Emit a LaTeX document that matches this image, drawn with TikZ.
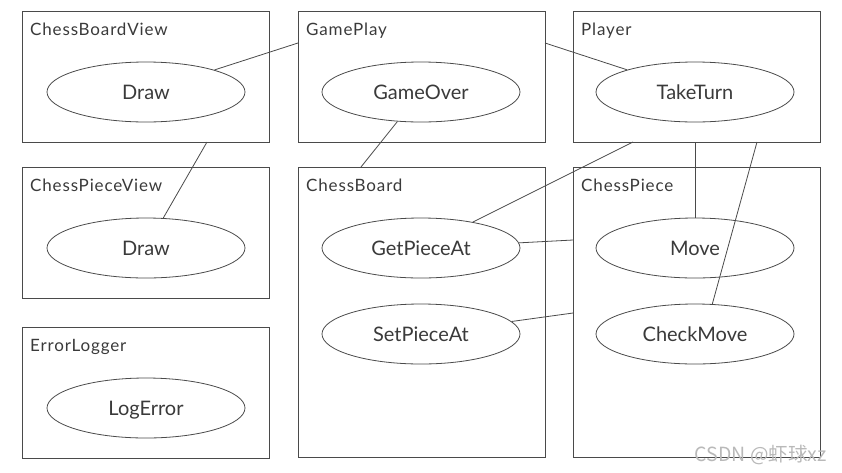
\documentclass[tikz,border=0pt]{standalone}
\usepackage{fontspec}
\setmainfont{Lato}
\newfontfamily\cjk{Noto Sans CJK SC}
\newfontfamily\titlefont[LetterSpace=5]{Lato}
\usetikzlibrary{shapes.geometric}
\definecolor{linegray}{HTML}{4A4A4A}
\definecolor{textgray}{HTML}{3A3A3A}
\tikzset{
  classbox/.style={draw=linegray, line width=0.8pt, anchor=north west,
    minimum width=247pt, minimum height=#1, inner sep=0pt},
  classbox/.default=131pt,
  title/.style={anchor=north west, inner sep=0pt, xshift=8pt, yshift=-12pt,
    text=textgray, font=\titlefont\fontsize{17}{17}\selectfont},
  method/.style={ellipse, draw=linegray, line width=0.8pt, minimum width=198pt,
    minimum height=60pt, inner sep=0pt, text depth=0pt, text=textgray,
    font=\fontsize{20}{20}\selectfont},
  link/.style={draw=linegray, line width=0.8pt}
}

\begin{document}
\begin{tikzpicture}[x=1pt, y=-1pt]
      \useasboundingbox (0,0) rectangle (842,472);
      % classes
      \node[classbox, label={[title]north west:ChessBoardView}] (cbv) at (22,11) {};
      \node[classbox, label={[title]north west:GamePlay}] (gameplay) at (298,11) {};
      \node[classbox, label={[title]north west:Player}] (player) at (573,11) {};
      \node[classbox, label={[title]north west:ChessPieceView}] (cpv) at (22,167) {};
      \node[classbox=290pt, label={[title]north west:ChessBoard}] (board) at (298,167) {};
      \node[classbox=290pt, label={[title]north west:ChessPiece}] (piece) at (573,167) {};
      \node[classbox, label={[title]north west:ErrorLogger}] (logger) at (22,327) {};
      % methods
      \node[method] (cbvdraw) at (146,92) {Draw};
      \node[method] (gameover) at (421,92) {GameOver};
      \node[method] (taketurn) at (695,92) {TakeTurn};
      \node[method] (cpvdraw) at (146,248) {Draw};
      \node[method] (getpiece) at (421,248) {GetPieceAt};
      \node[method] (setpiece) at (421,334) {SetPieceAt};
      \node[method] (move) at (695,248) {Move};
      \node[method] (checkmove) at (695,334) {CheckMove};
      \node[method] (logerror) at (146,408) {LogError};
      % ends on the box borders
      \coordinate (gpL) at (298,43);
      \coordinate (gpR) at (545,43);
      \coordinate (cbvB) at (207,142);
      \coordinate (boardT) at (361,167);
      \coordinate (plB1) at (633,142);
      \coordinate (plB2) at (695,142);
      \coordinate (plB3) at (757,142);
      \coordinate (pcL1) at (573,240);
      \coordinate (pcL2) at (573,313);
      \draw[link] (gpL) -- (cbvdraw);
      \draw[link] (cbvB) -- (cpvdraw);
      \draw[link] (gpR) -- (taketurn);
      \draw[link] (boardT) -- (gameover);
      \draw[link] (plB1) -- (getpiece);
      \draw[link] (plB2) -- (move);
      \draw[link] (plB3) -- (checkmove.60);
      \draw[link] (pcL1) -- (getpiece);
      \draw[link] (pcL2) -- (setpiece);
      % watermark
      \node[anchor=base east, inner sep=0pt, text=gray!55,
        font=\cjk\fontsize{19.5}{19.5}\selectfont] (mark) at (827,461) {CSDN @虾球xz};
\end{tikzpicture}
\end{document}
